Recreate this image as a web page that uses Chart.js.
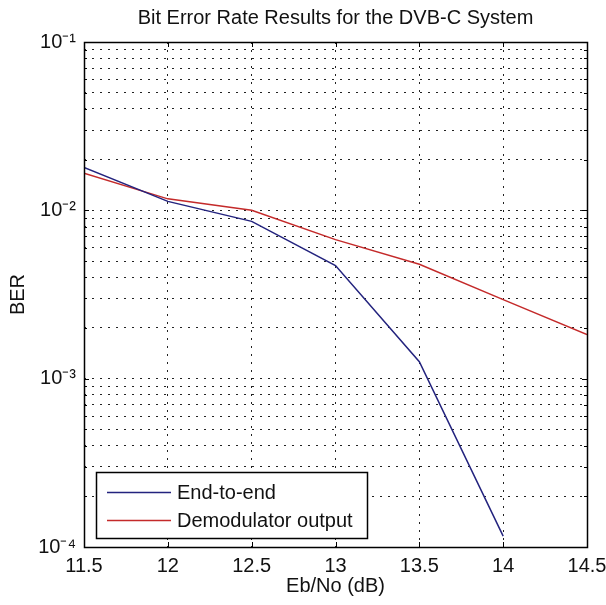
<!DOCTYPE html>
<html>
<head>
<meta charset="utf-8">
<script src="https://cdn.jsdelivr.net/npm/chart.js@4/dist/chart.umd.min.js"></script>
<style>
  html, body { margin: 0; padding: 0; background: #fff; }
  #wrap { width: 606px; height: 605px; }
</style>
</head>
<body>
<div id="wrap"><canvas id="berChart" width="606" height="605"></canvas></div>
<script>
// values
var ebno = [11.5, 12, 12.5, 13, 13.5, 14, 14.5];
var endToEnd = [0.0180, 0.0113, 0.0086, 0.0047, 0.00126, 0.000116, null];
var demodOutput = [0.0166, 0.0117, 0.0100, 0.0067, 0.00478, 0.00295, 0.00183];
var seriesNames = ["End-to-end", "Demodulator output"];
var seriesColors = ["#23237e", "#c42a2a"];
var chartTitle = "Bit Error Rate Results for the DVB-C System";

var xTicks = [11.5, 12, 12.5, 13, 13.5, 14, 14.5];
var decades = [-4, -3, -2, -1];
var mantissas = [1, 2, 3, 4, 5, 6, 7, 8, 9];

var yTicks = [];
for (var d = 0; d < decades.length; d++) {
    for (var m = 0; m < mantissas.length; m++) {
        if (decades[d] == -1 && m > 0) break;
        yTicks.push(mantissas[m] * Math.pow(10, decades[d]));
    }
}

var FONT = "'Liberation Sans', Arial, sans-serif";
var sup = {"-": "\u207B", "0": "\u2070", "1": "\u00B9", "2": "\u00B2", "3": "\u00B3", "4": "\u2074"};

function isDecade(v) {
    var l = Math.log10(v);
    return Math.abs(l - Math.round(l)) < 1e-9;
}

function toPoints(ys) {
    var pts = [];
    for (var i = 0; i < ebno.length; i++) {
        if (ys[i] != null) pts.push({x: ebno[i], y: ys[i]});
    }
    return pts;
}

// title over the axes, box round the axes, inward ticks, legend in the lower left corner
var matlabFrame = {
    id: "matlabFrame",
    afterDatasetsDraw: function(chart) {
        var ctx = chart.ctx, a = chart.chartArea;
        var xs = chart.scales.x, ys = chart.scales.y;
        ctx.save();

        ctx.fillStyle = "#111";
        ctx.font = "20px " + FONT;
        ctx.textAlign = "center";
        ctx.textBaseline = "middle";
        ctx.fillText(chartTitle, (a.left + a.right) / 2, 18);

        ctx.strokeStyle = "#000";
        ctx.lineWidth = 1;
        ctx.beginPath();
        xTicks.forEach(function(v) {
            var px = Math.round(xs.getPixelForValue(v)) + 0.5;
            ctx.moveTo(px, a.bottom); ctx.lineTo(px, a.bottom - 5);
            ctx.moveTo(px, a.top); ctx.lineTo(px, a.top + 5);
        });
        yTicks.forEach(function(v) {
            var py = Math.round(ys.getPixelForValue(v)) + 0.5;
            var len = isDecade(v) ? 5 : 3;
            ctx.moveTo(a.left, py); ctx.lineTo(a.left + len, py);
            ctx.moveTo(a.right, py); ctx.lineTo(a.right - len, py);
        });
        ctx.stroke();
        ctx.lineWidth = 1.5;
        ctx.strokeRect(Math.round(a.left) + 0.5, Math.round(a.top) + 0.5,
                       Math.round(a.right - a.left), Math.round(a.bottom - a.top));

        // legend
        var lx = a.left + 12, ly = a.bottom - 75, lw = 271, lh = 66;
        ctx.fillStyle = "#fff";
        ctx.fillRect(lx, ly, lw, lh);
        ctx.lineWidth = 1.5;
        ctx.strokeStyle = "#000";
        ctx.strokeRect(lx + 0.5, ly + 0.5, lw, lh);
        ctx.font = "20px " + FONT;
        ctx.textBaseline = "middle";
        ctx.textAlign = "left";
        for (var i = 0; i < seriesNames.length; i++) {
            var rowY = ly + 20 + i * 28;
            ctx.strokeStyle = seriesColors[i];
            ctx.lineWidth = 1.5;
            ctx.beginPath();
            ctx.moveTo(lx + 11, rowY + 0.5);
            ctx.lineTo(lx + 75, rowY + 0.5);
            ctx.stroke();
            ctx.fillStyle = "#111";
            ctx.fillText(seriesNames[i], lx + 81, rowY + 1);
        }
        ctx.restore();
    }
};

var gridStyle = {
    color: "#222",
    lineWidth: 1,
    drawTicks: false
};

var ctx = document.getElementById("berChart");

var chart = new Chart(ctx, {
    type: "line",
    data: {
        datasets: [
            {
                label: seriesNames[0],
                data: toPoints(endToEnd),
                borderColor: seriesColors[0],
                backgroundColor: seriesColors[0],
                borderWidth: 1.5,
                pointRadius: 0,
                fill: false,
                tension: 0
            },
            {
                label: seriesNames[1],
                data: toPoints(demodOutput),
                borderColor: seriesColors[1],
                backgroundColor: seriesColors[1],
                borderWidth: 1.5,
                pointRadius: 0,
                fill: false,
                tension: 0
            }
        ]
    },
    options: {
        responsive: false,
        animation: false,
        layout: { padding: { left: 0, right: 19, top: 42, bottom: 0 } },
        plugins: {
            legend: { display: false },
            tooltip: { enabled: false },
            title: { display: false }
        },
        scales: {
            x: {
                type: "linear",
                min: 11.5,
                max: 14.5,
                afterBuildTicks: function(scale) {
                    scale.ticks = xTicks.map(function(v) { return {value: v}; });
                },
                afterFit: function(scale) {
                    scale.height = 58;
                    scale.paddingRight = 0;
                    scale.paddingLeft = 0;
                },
                border: { display: false, dash: [2, 6] },
                grid: gridStyle,
                ticks: {
                    color: "#111",
                    padding: 7,
                    maxRotation: 0,
                    font: { family: FONT, size: 20 },
                    callback: function(value) { return String(value); }
                },
                title: {
                    display: true,
                    text: "Eb/No (dB)",
                    color: "#111",
                    font: { family: FONT, size: 20 },
                    padding: { top: 0, bottom: 7 }
                }
            },
            y: {
                type: "logarithmic",
                min: 1e-4,
                max: 1e-1,
                afterBuildTicks: function(scale) {
                    scale.ticks = yTicks.map(function(v) { return {value: v}; });
                },
                afterFit: function(scale) {
                    scale.width = 84;
                    scale.paddingTop = 0;
                },
                border: { display: false, dash: [2, 6] },
                grid: gridStyle,
                ticks: {
                    color: "#111",
                    padding: 8,
                    autoSkip: false,
                    font: { family: FONT, size: 20 },
                    callback: function(value) {
                        if (!isDecade(value)) return "";
                        var e = String(Math.round(Math.log10(value)));
                        var s = "10";
                        for (var k = 0; k < e.length; k++) s += sup[e[k]];
                        return s;
                    }
                },
                title: {
                    display: true,
                    text: "BER",
                    color: "#111",
                    font: { family: FONT, size: 20 },
                    padding: { top: 6, bottom: 0 }
                }
            }
        }
    },
    plugins: [matlabFrame]
});
</script>
</body>
</html>
